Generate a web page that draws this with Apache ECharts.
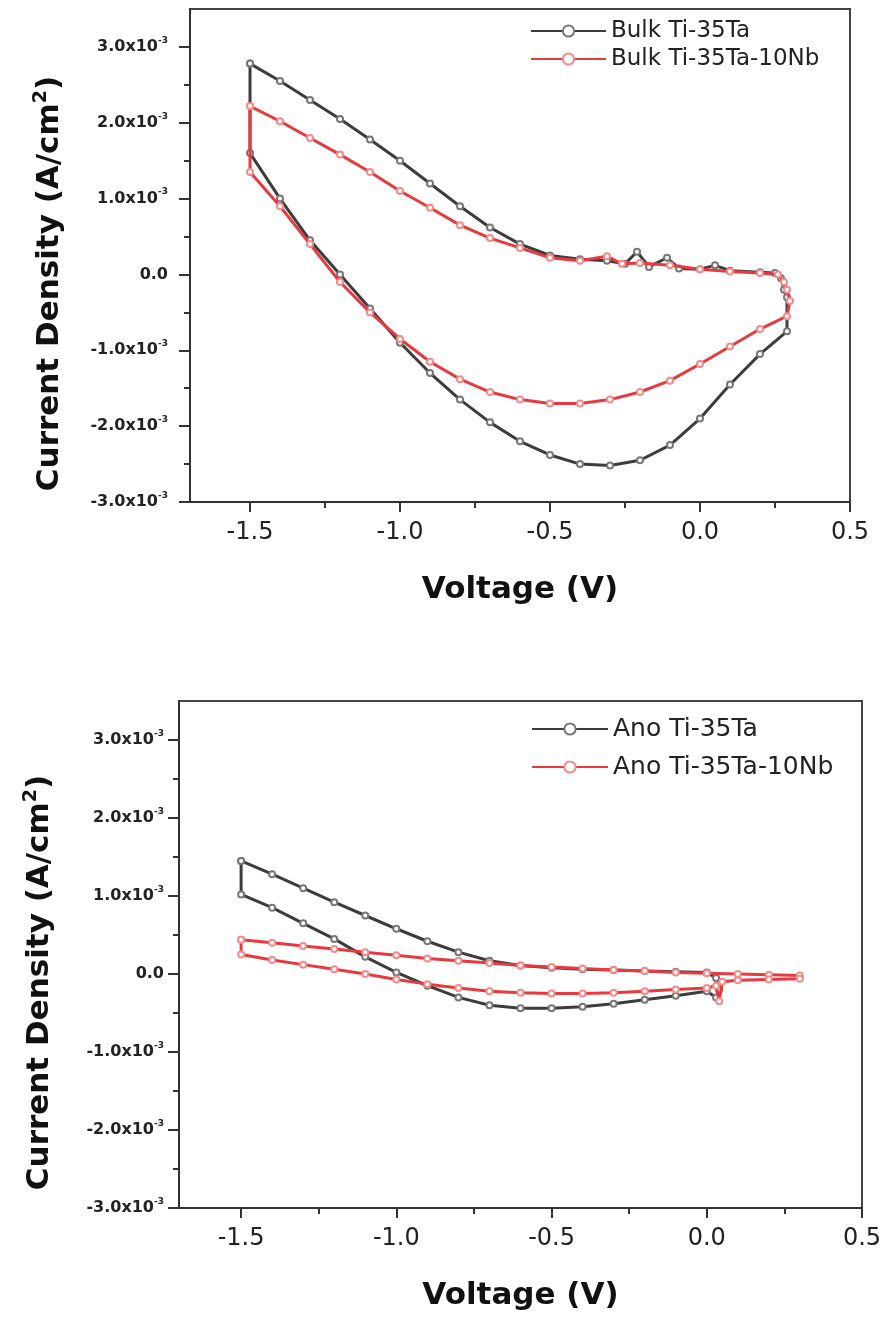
<!DOCTYPE html>
<html>
<head>
<meta charset="utf-8">
<script src="https://cdn.jsdelivr.net/npm/echarts@6/dist/echarts.min.js"></script>
<style>
  html, body {margin: 0; padding: 0; background: #fff;}
  #chart {width: 887px; height: 1321px;}
</style>
</head>
<body>
<div id="chart"></div>
<script>
// values in 10^-3 A/cm^2, voltage in V
var bulkTaV = [-1.5, -1.4, -1.3, -1.2, -1.1, -1.0, -0.9, -0.8, -0.7, -0.6, -0.5, -0.4, -0.31, -0.25, -0.21, -0.17, -0.11, -0.07, 0.0, 0.05, 0.1, 0.2, 0.25, 0.27, 0.28, 0.29,
  0.29, 0.2, 0.1, 0.0, -0.1, -0.2, -0.3, -0.4, -0.5, -0.6, -0.7, -0.8, -0.9, -1.0, -1.1, -1.2, -1.3, -1.4, -1.5, -1.5];
var bulkTaJ = [2.78, 2.55, 2.3, 2.05, 1.78, 1.5, 1.2, 0.9, 0.62, 0.4, 0.25, 0.2, 0.18, 0.14, 0.3, 0.1, 0.22, 0.08, 0.07, 0.12, 0.05, 0.03, 0.02, -0.05, -0.2, -0.3,
  -0.75, -1.05, -1.45, -1.9, -2.25, -2.45, -2.52, -2.5, -2.38, -2.2, -1.95, -1.65, -1.3, -0.9, -0.45, 0.0, 0.45, 1.0, 1.6, 2.78];

var bulkTaNbV = [-1.5, -1.4, -1.3, -1.2, -1.1, -1.0, -0.9, -0.8, -0.7, -0.6, -0.5, -0.4, -0.31, -0.26, -0.2, -0.1, 0.0, 0.1, 0.2, 0.26, 0.28, 0.29, 0.3,
  0.29, 0.2, 0.1, 0.0, -0.1, -0.2, -0.3, -0.4, -0.5, -0.6, -0.7, -0.8, -0.9, -1.0, -1.1, -1.2, -1.3, -1.4, -1.5, -1.5];
var bulkTaNbJ = [2.22, 2.02, 1.8, 1.58, 1.35, 1.1, 0.88, 0.65, 0.48, 0.35, 0.22, 0.18, 0.24, 0.14, 0.15, 0.12, 0.07, 0.04, 0.02, 0.0, -0.1, -0.2, -0.35,
  -0.55, -0.72, -0.95, -1.18, -1.4, -1.55, -1.65, -1.7, -1.7, -1.65, -1.55, -1.38, -1.15, -0.85, -0.5, -0.1, 0.4, 0.9, 1.35, 2.22];

var anoTaV = [-1.5, -1.4, -1.3, -1.2, -1.1, -1.0, -0.9, -0.8, -0.7, -0.6, -0.5, -0.4, -0.3, -0.2, -0.1, 0.0, 0.03, 0.04,
  0.03, 0.0, -0.1, -0.2, -0.3, -0.4, -0.5, -0.6, -0.7, -0.8, -0.9, -1.0, -1.1, -1.2, -1.3, -1.4, -1.5, -1.5];
var anoTaJ = [1.45, 1.28, 1.1, 0.92, 0.75, 0.58, 0.42, 0.28, 0.17, 0.11, 0.08, 0.06, 0.05, 0.04, 0.03, 0.02, -0.05, -0.2,
  -0.3, -0.22, -0.28, -0.33, -0.38, -0.42, -0.44, -0.44, -0.4, -0.3, -0.15, 0.02, 0.22, 0.45, 0.65, 0.85, 1.02, 1.45];

var anoTaNbV = [-1.5, -1.4, -1.3, -1.2, -1.1, -1.0, -0.9, -0.8, -0.7, -0.6, -0.5, -0.4, -0.3, -0.2, -0.1, 0.0, 0.1, 0.2, 0.3,
  0.3, 0.2, 0.1, 0.05, 0.04, 0.03, 0.0, -0.1, -0.2, -0.3, -0.4, -0.5, -0.6, -0.7, -0.8, -0.9, -1.0, -1.1, -1.2, -1.3, -1.4, -1.5, -1.5];
var anoTaNbJ = [0.44, 0.4, 0.36, 0.32, 0.28, 0.24, 0.2, 0.17, 0.14, 0.11, 0.09, 0.07, 0.05, 0.04, 0.02, 0.01, 0.0, -0.01, -0.02,
  -0.06, -0.07, -0.08, -0.1, -0.35, -0.15, -0.18, -0.2, -0.22, -0.24, -0.25, -0.25, -0.24, -0.22, -0.18, -0.13, -0.07, 0.0, 0.06, 0.12, 0.18, 0.25, 0.44];

var xMajor = [-1.5, -1.0, -0.5, 0.0, 0.5];
var xMinor = [-1.25, -0.75, -0.25, 0.25];
var yMajor = [-3, -2, -1, 0, 1, 2, 3];
var yMinor = [-2.5, -1.5, -0.5, 0.5, 1.5, 2.5];
var legendTop = ['Bulk Ti-35Ta', 'Bulk Ti-35Ta-10Nb'];
var legendBottom = ['Ano Ti-35Ta', 'Ano Ti-35Ta-10Nb'];

var FONT = 'DejaVu Sans, Verdana, sans-serif';
var BLACK = '#3c3c3c', RED = '#e8393f';

function pairs(xs, ys) { return xs.map(function (x, i) { return [x, ys[i]]; }); }

function yLabel(v) {
  if (Math.abs(v) < 1e-9) return '{m|0.0}';
  return '{m|' + v.toFixed(1) + 'x10}{e|-3}';
}

function xAxes(grid, nameGap) {
  return [{
    type: 'value', gridIndex: grid, min: -1.7, max: 0.5, position: 'bottom',
    name: 'Voltage (V)', nameLocation: 'middle', nameGap: nameGap,
    nameTextStyle: {fontFamily: FONT, fontWeight: 'bold', fontSize: 31, color: '#111', verticalAlign: 'top'},
    axisLine: {onZero: false, lineStyle: {color: '#333', width: 2}},
    axisTick: {length: 10, lineStyle: {color: '#333', width: 2}, customValues: xMajor},
    axisLabel: {customValues: xMajor, fontFamily: FONT, fontSize: 24, color: '#222', margin: 19,
      formatter: function (v) { return v.toFixed(1); }},
    splitLine: {show: false}
  }, {
    type: 'value', gridIndex: grid, min: -1.7, max: 0.5, position: 'bottom',
    axisLine: {show: false, onZero: false},
    axisTick: {length: 6, lineStyle: {color: '#333', width: 2}, customValues: xMinor},
    axisLabel: {show: false},
    splitLine: {show: false}
  }];
}

function yAxes(grid, labelMargin, nameGap) {
  return [{
    type: 'value', gridIndex: grid, min: -3, max: 3.5, position: 'left',
    name: '{a|Current Density (A/cm}{s|2}{a|)}', nameLocation: 'middle', nameGap: nameGap, nameRotate: 90,
    nameTextStyle: {padding: [0, 56, 0, 0], rich: {
      a: {fontFamily: FONT, fontWeight: 'bold', fontSize: 31, color: '#111', lineHeight: 36},
      s: {fontFamily: FONT, fontWeight: 'bold', fontSize: 19, color: '#111', verticalAlign: 'top', lineHeight: 36}
    }},
    axisLine: {onZero: false, lineStyle: {color: '#333', width: 2}},
    axisTick: {length: 11, lineStyle: {color: '#333', width: 2}, customValues: yMajor},
    axisLabel: {customValues: yMajor, margin: labelMargin, formatter: yLabel, rich: {
      m: {fontFamily: FONT, fontWeight: 'bold', fontSize: 16, color: '#222', lineHeight: 22},
      e: {fontFamily: FONT, fontWeight: 'bold', fontSize: 9, color: '#222', verticalAlign: 'top', lineHeight: 22}
    }},
    splitLine: {show: false}
  }, {
    type: 'value', gridIndex: grid, min: -3, max: 3.5, position: 'left',
    axisLine: {show: false, onZero: false},
    axisTick: {length: 6, lineStyle: {color: '#333', width: 2}, customValues: yMinor},
    axisLabel: {show: false},
    splitLine: {show: false}
  }];
}

function curve(name, data, color, symColor, xi, yi) {
  return {
    name: name, type: 'line', xAxisIndex: xi, yAxisIndex: yi, data: data,
    symbol: 'emptyCircle', symbolSize: 6, showAllSymbol: true,
    lineStyle: {color: color, width: 3},
    itemStyle: {color: symColor, borderColor: symColor, borderWidth: 1.2},
    emphasis: {disabled: true}, animation: false, z: color === RED ? 3 : 2
  };
}

var chart = echarts.init(document.getElementById('chart'));
chart.setOption({
  backgroundColor: '#fff',
  animation: false,
  grid: [
    {left: 190, top: 9, width: 660, height: 493, show: true, borderColor: '#444', borderWidth: 2},
    {left: 179, top: 701, width: 683, height: 507, show: true, borderColor: '#444', borderWidth: 2}
  ],
  legend: [{
    data: legendTop, orient: 'vertical', left: 525, top: 14,
    itemWidth: 75, itemHeight: 14, itemGap: 4,
    textStyle: {fontFamily: FONT, fontSize: 23, color: '#222', lineHeight: 24}
  }, {
    data: legendBottom, orient: 'vertical', left: 526, top: 711,
    itemWidth: 76, itemHeight: 14, itemGap: 12,
    textStyle: {fontFamily: FONT, fontSize: 25, color: '#222', lineHeight: 26}
  }],
  xAxis: xAxes(0, 72).concat(xAxes(1, 72)),
  yAxis: yAxes(0, 22, 122).concat(yAxes(1, 15, 121)),
  series: [
    curve(legendTop[0], pairs(bulkTaV, bulkTaJ), BLACK, '#777', 0, 0),
    curve(legendTop[1], pairs(bulkTaNbV, bulkTaNbJ), RED, '#f28c8c', 0, 0),
    curve(legendBottom[0], pairs(anoTaV, anoTaJ), BLACK, '#777', 2, 2),
    curve(legendBottom[1], pairs(anoTaNbV, anoTaNbJ), RED, '#f28c8c', 2, 2)
  ]
});
</script>
</body>
</html>
